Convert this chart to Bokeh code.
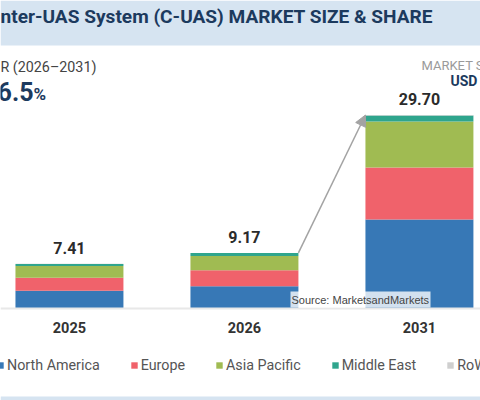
from bokeh.core.properties import value
from bokeh.embed import file_html
from bokeh.resources import INLINE
from bokeh.plotting import figure
from bokeh.models import (Range1d, ColumnDataSource, BoxAnnotation, Label, Arrow,
                          NormalHead, FixedTicker, Legend, LegendItem)

years = ["2025", "2026", "2031"]
totals = ["7.41", "9.17", "29.70"]
regions = ["North America", "Europe", "Asia Pacific", "Middle East", "RoW"]
north_america = [2.72, 3.42, 13.66]
europe = [2.00, 2.46, 7.98]
asia_pacific = [1.80, 2.19, 7.06]
middle_east = [0.33, 0.44, 0.92]
row = [0.02, 0.02, 0.08]
colors = ["#3778b6", "#f0626b", "#a0bb52", "#2fa58d", "#cfcfcf"]

W, H = 480, 400
NAVY = "#1c3a5e"
FONT = "Roboto"
BAR = 0.617
BAND = "#d6e4f1"

idx = list(range(len(years)))
stack_tops = [a + b + c + d + e for a, b, c, d, e in zip(north_america, europe, asia_pacific, middle_east, row)]
src = ColumnDataSource(dict(x=idx, year=years, total=totals, top=stack_tops,
                            s0=north_america, s1=europe, s2=asia_pacific, s3=middle_east, s4=row))

p = figure(width=W, height=H, output_backend="svg", toolbar_location=None,
           x_range=Range1d(-0.394, 2.349), y_range=Range1d(-14.12, 47.28),
           min_border=0, min_border_left=0, min_border_right=0, min_border_top=0, min_border_bottom=0,
           outline_line_color=None, background_fill_color="white", border_fill_color="white",
           styles={"position": "absolute", "left": "0px", "top": "0px"})
p.grid.visible = False
p.yaxis.visible = False

stack_names = ["s0", "s1", "s2", "s3", "s4"]
bars = p.vbar_stack(stack_names, x="x", width=BAR, color=colors, line_color=None, source=src)

ax = p.xaxis[0]
ax.fixed_location = 0
ax.ticker = FixedTicker(ticks=idx)
ax.major_label_overrides = dict(zip(idx, years))
ax.major_tick_line_color = None
ax.minor_tick_line_color = None
ax.axis_line_color = "#e8e8e8"
ax.axis_line_width = 2
ax.major_label_text_font = FONT
ax.major_label_text_font_style = "bold"
ax.major_label_text_font_size = "14.5px"
ax.major_label_text_color = "#333333"
ax.major_label_standoff = 7

p.text(x="x", y="top", text="total", source=src, text_font=value(FONT), text_font_style="bold",
       text_font_size="16px", text_color="#2b2b2b", text_align="center", text_baseline="bottom",
       y_offset=-10)

# connector arrow between the 2026 and 2031 bars
p.add_layout(Arrow(end=NormalHead(size=11, fill_color="#a3a3a3", line_color="#a3a3a3"),
                   x_start=idx[1] + BAR / 2, y_start=stack_tops[1],
                   x_end=idx[2] - BAR / 2, y_end=stack_tops[2],
                   line_color="#a3a3a3", line_width=1.5))

# bands
p.add_layout(BoxAnnotation(left=0, right=W, top=0, bottom=45, left_units="canvas", right_units="canvas",
                           top_units="canvas", bottom_units="canvas", fill_color=BAND, fill_alpha=1,
                           line_color=None, level="underlay"))
p.add_layout(BoxAnnotation(left=0, right=W, top=396, bottom=400, left_units="canvas", right_units="canvas",
                           top_units="canvas", bottom_units="canvas", fill_color=BAND, fill_alpha=1,
                           line_color=None, level="underlay"))
# source box
p.add_layout(BoxAnnotation(left=290, right=430, top=291, bottom=307, left_units="canvas", right_units="canvas",
                           top_units="canvas", bottom_units="canvas", fill_color="#ffffff", fill_alpha=0.78,
                           line_color=None, level="overlay"))


def txt(x, y, s, size, color, style="normal", font=FONT, align="left"):
    p.add_layout(Label(x=x, y=H - y, x_units="screen", y_units="screen", text=s, text_font=font,
                       text_font_size=size, text_color=color, text_font_style=style,
                       text_align=align, text_baseline="middle", level="overlay"))


txt(0, 16, "nter-UAS System (C-UAS) MARKET SIZE & SHARE", "19.1px", NAVY, "bold")
txt(0, 66, "R (2026–2031)", "14.3px", "#444444")
txt(33, 91, "6.5", "25px", NAVY, "bold", align="right")
txt(33, 93, "%", "17px", NAVY, "bold")
txt(421, 65, "MARKET S", "13px", "#9a9a9a")
txt(450, 80, "USD", "14px", NAVY, "bold")
txt(291, 299, "Source: MarketsandMarkets", "11px", "#444444", font="Liberation Sans")

legend = Legend(items=[LegendItem(label=r, renderers=[b]) for r, b in zip(regions, bars)],
                orientation="horizontal", location=(-4, 27), spacing=30, padding=0, margin=0,
                glyph_width=8, glyph_height=8, label_standoff=3, border_line_color=None,
                background_fill_alpha=0, label_text_font=FONT, label_text_font_size="14.3px",
                label_text_color="#555555", label_height=16)
p.add_layout(legend, "center")

open("out.html", "w").write(file_html(p, INLINE))
